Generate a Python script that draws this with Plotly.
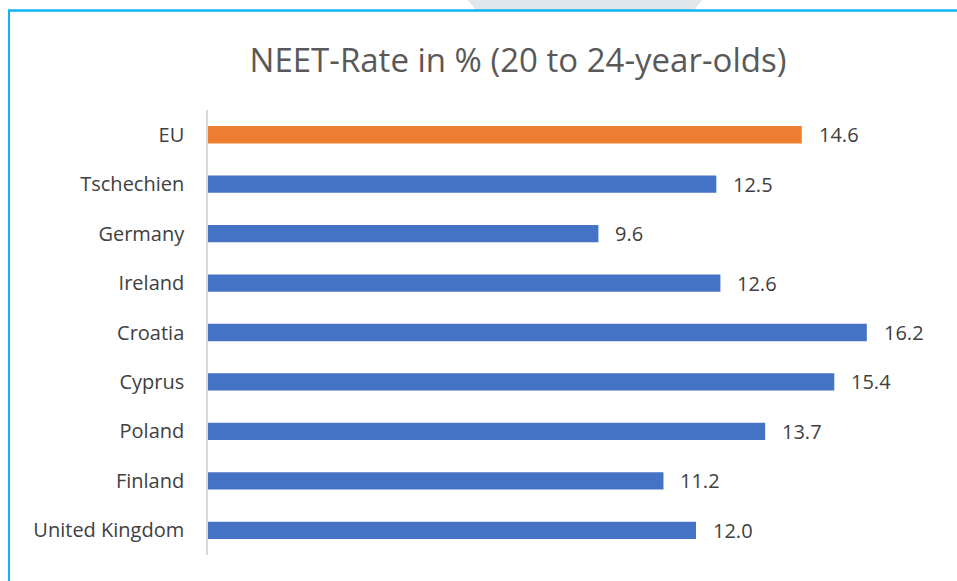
import plotly.graph_objects as go

categories = ["EU", "Tschechien", "Germany", "Ireland", "Croatia", "Cyprus", "Poland", "Finland", "United Kingdom"]
values = [14.6, 12.5, 9.6, 12.6, 16.2, 15.4, 13.7, 11.2, 12.0]
bar_colors = ["#ED7D31"] + ["#4472C4"] * 8
value_labels = [f"{v:.1f}" for v in values]

FONT = "Open Sans, sans-serif"
W, H = 957, 581
L, R, T, B = 208, 17, 110, 26
PW = W - L - R
PH = H - T - B

def px_x(p):
    return (p - L) / PW

def px_y(p):
    return 1 - (p - T) / PH

fig = go.Figure(go.Bar(
    y=categories,
    x=values,
    orientation="h",
    marker=dict(color=bar_colors, line=dict(width=0)),
    width=0.35,
    hoverinfo="skip",
))

for c, v, t in zip(categories, values, value_labels):
    fig.add_annotation(
        x=v, y=c, xref="x", yref="y", text=t, showarrow=False,
        xanchor="left", yanchor="middle", xshift=15,
        font=dict(family=FONT, size=20, color="#404040"),
    )

fig.update_layout(
    width=W, height=H,
    margin=dict(l=L, r=R, t=T, b=B),
    paper_bgcolor="white",
    plot_bgcolor="white",
    showlegend=False,
    title=dict(
        text="NEET-Rate in % (20 to 24-year-olds)",
        x=518 / W, xanchor="center", xref="container",
        y=1 - 60 / H, yanchor="middle", yref="container",
        font=dict(family=FONT, size=33, color="#595959"),
    ),
    xaxis=dict(range=[0, 18], visible=False, showgrid=False, zeroline=False, fixedrange=True),
    yaxis=dict(
        autorange="reversed",
        showline=True, linecolor="#D9D9D9", linewidth=1.5,
        ticks="", ticklabelstandoff=18,
        tickfont=dict(family=FONT, size=20, color="#404040"),
        showgrid=False, zeroline=False,
    ),
)

shapes = [
    # faint gray shape at top
    dict(type="path", xref="paper", yref="paper",
         path=f"M {px_x(466)} {px_y(-2)} L {px_x(704)} {px_y(-2)} L {px_x(694)} {px_y(10)} L {px_x(476)} {px_y(10)} Z",
         fillcolor="#E1E6EB", line=dict(width=0), layer="below"),
    # frame top line
    dict(type="line", xref="paper", yref="paper",
         x0=px_x(8), x1=px_x(960), y0=px_y(10.5), y1=px_y(10.5),
         line=dict(color="#0EB4F0", width=2.5)),
    # frame left line
    dict(type="line", xref="paper", yref="paper",
         x0=px_x(9), x1=px_x(9), y0=px_y(10), y1=px_y(590),
         line=dict(color="#0EB4F0", width=2)),
]
fig.update_layout(shapes=shapes)

fig.write_html("out.html", config={"displayModeBar": False},
               post_script="document.body.style.margin='0';")
